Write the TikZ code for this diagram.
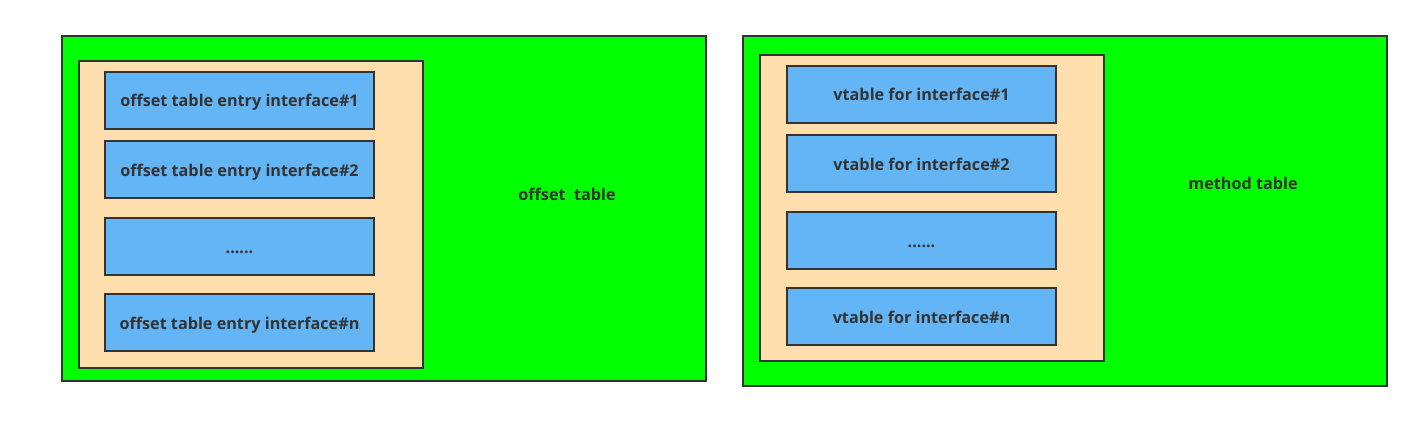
\documentclass[tikz,border=0pt]{standalone}
\usepackage{fontspec}
\setmainfont{Open Sans}
\definecolor{grn}{HTML}{00FF00}
\definecolor{peach}{HTML}{FFDEAD}
\definecolor{blu}{HTML}{64B5F6}
\definecolor{edge}{HTML}{333333}
\begin{document}
\begin{tikzpicture}[x=1pt,y=-1pt,
  box/.style={draw=edge,line width=2pt},
  lbl/.style={text=edge,font=\bfseries\fontsize{16.2}{18}\selectfont},
  entry/.style={box,fill=blu,minimum width=269pt,minimum height=57pt,inner sep=0pt,lbl,text height=13pt,text depth=0pt}]
\useasboundingbox (0,0) rectangle (1418,425);
% left
\draw[box,fill=grn] (62,36) rectangle (706,381);
\draw[box,fill=peach] (79,61) rectangle (423,368);
\node[entry] (l1) at (239.5,100.5) {offset table entry interface\#1};
\node[entry] (l2) at (239.5,169.5) {offset table entry interface\#2};
\node[entry] (l3) at (239.5,246.5) {......};
\node[entry] (l4) at (239.5,322.5) {offset table entry interface\#n};
\node[lbl] (lt) at (567,194) {offset\ \ table};
% right
\draw[box,fill=grn] (743,36) rectangle (1387,386);
\draw[box,fill=peach] (760,55) rectangle (1104,361);
\node[entry] (r1) at (921.5,94.5) {vtable for interface\#1};
\node[entry] (r2) at (921.5,163.5) {vtable for interface\#2};
\node[entry] (r3) at (921.5,240.5) {......};
\node[entry] (r4) at (921.5,316.5) {vtable for interface\#n};
\node[lbl] (rt) at (1243,183) {method table};
\end{tikzpicture}
\end{document}
